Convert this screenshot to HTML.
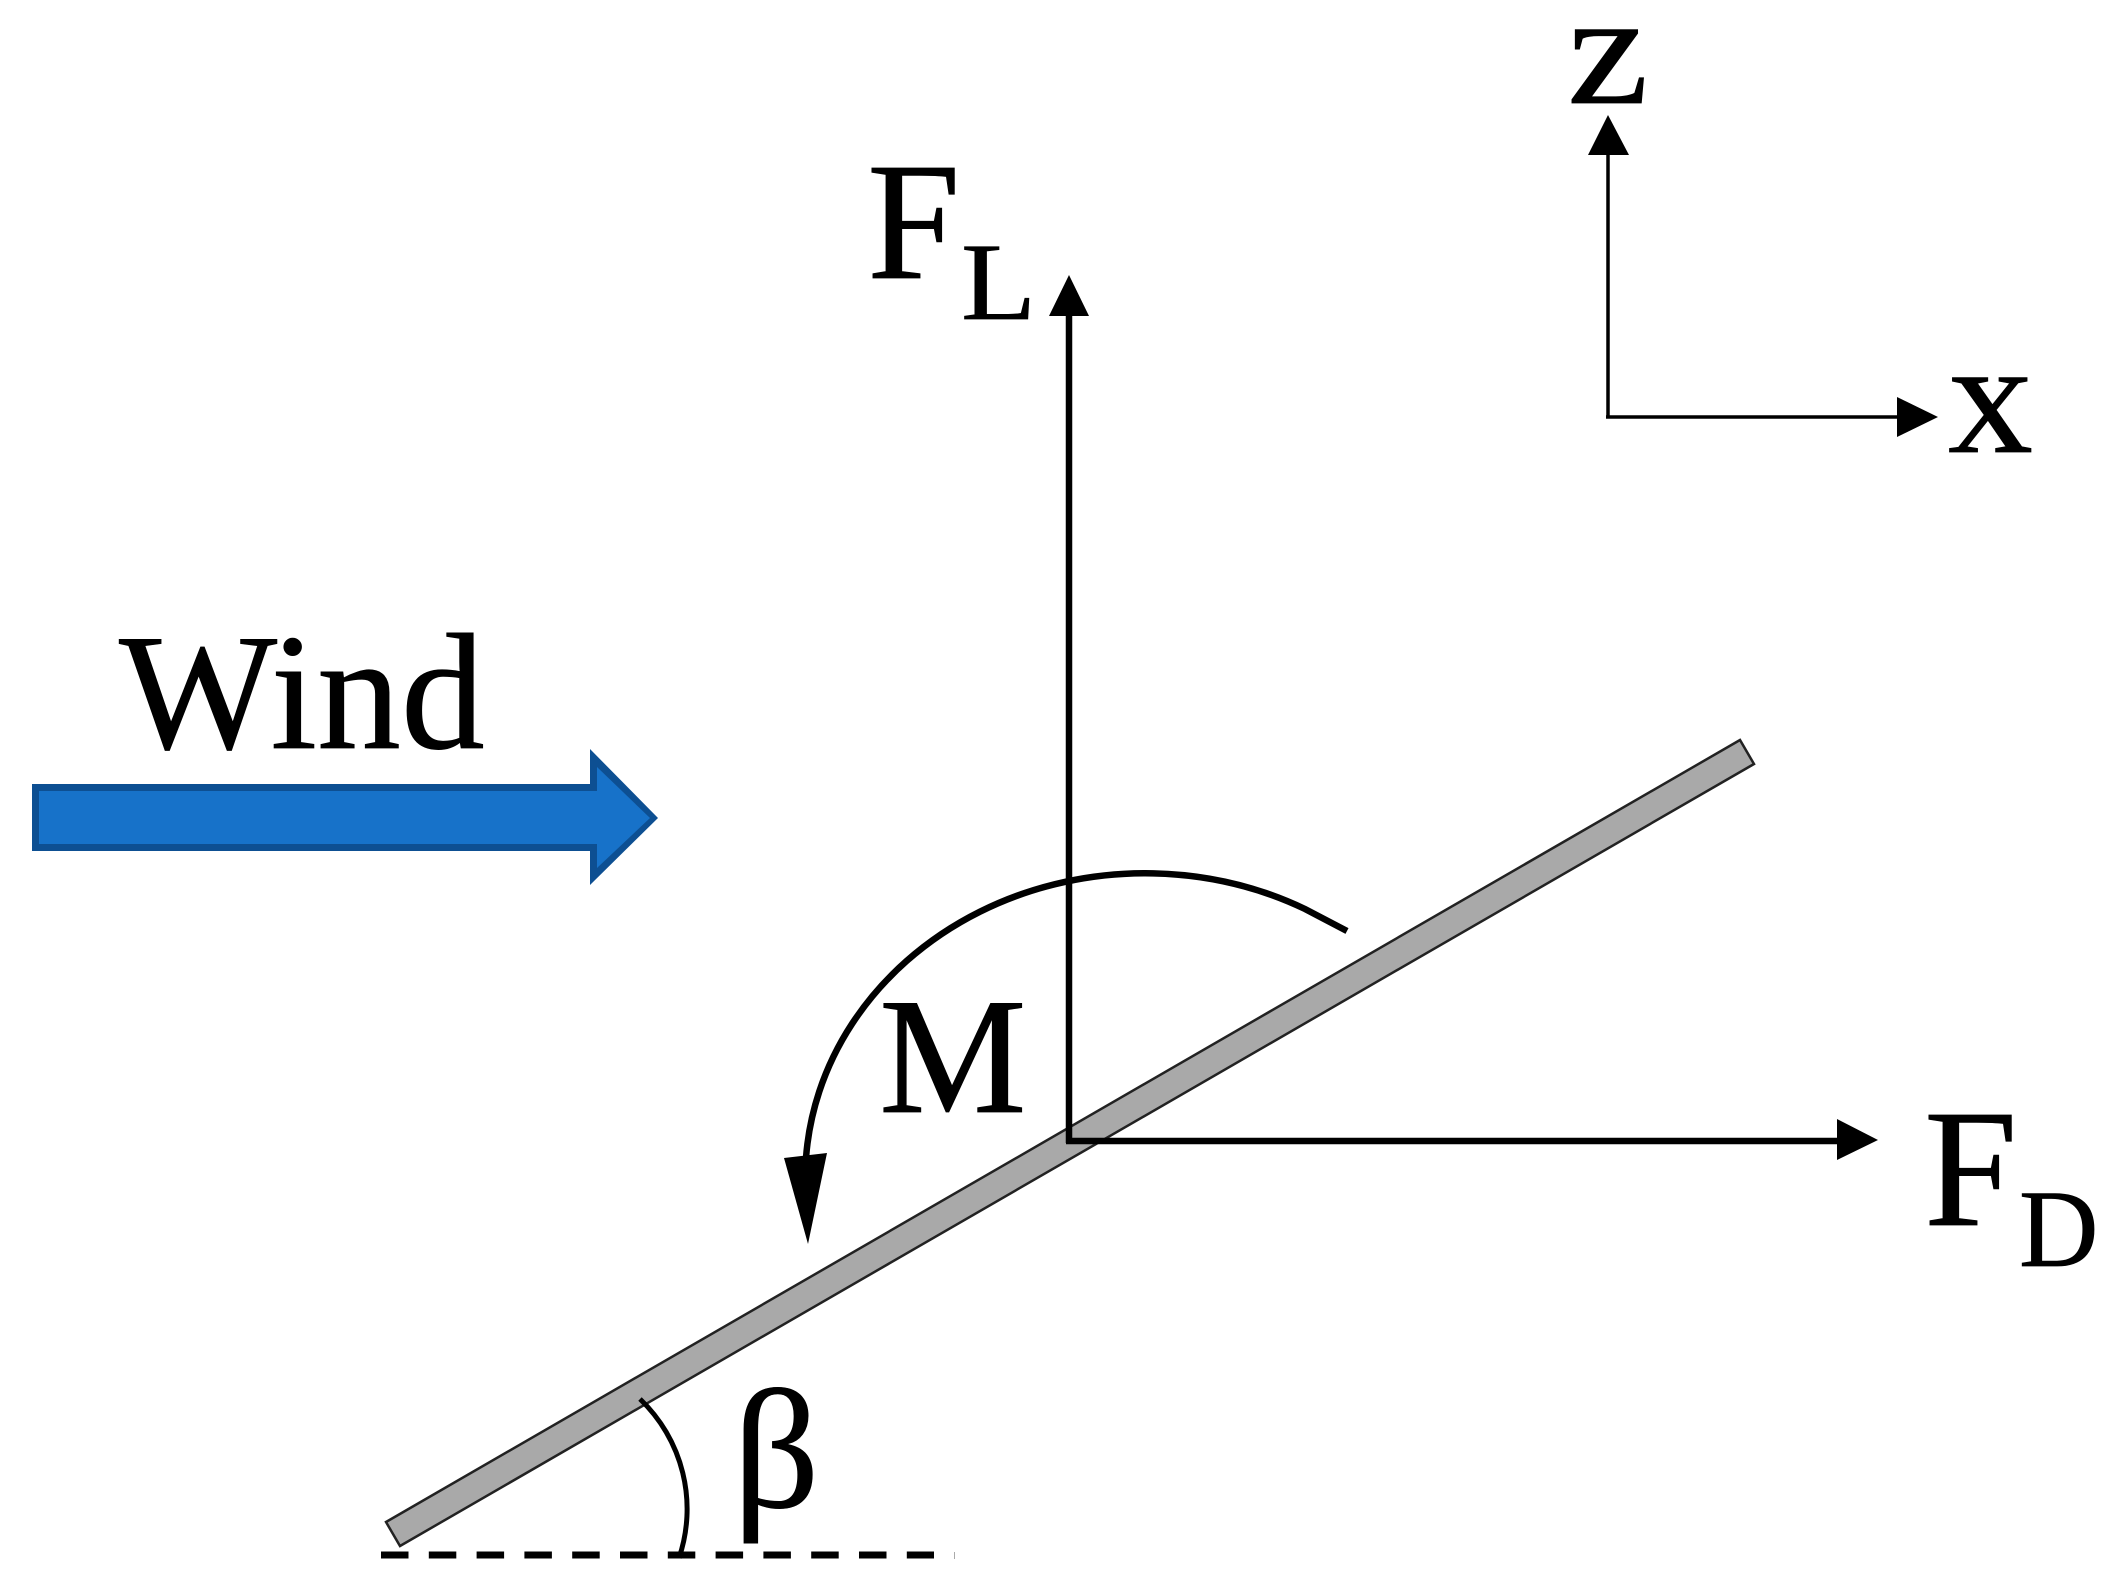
<!DOCTYPE html>
<html><head><meta charset="utf-8"><style>
html,body{margin:0;padding:0;background:#fff;width:2117px;height:1580px;overflow:hidden}
svg{display:block}
text{font-family:"Liberation Serif",serif;fill:#000;stroke:#000;stroke-width:.7px}
</style></head><body>
<svg width="2117" height="1580" viewBox="0 0 2117 1580" xmlns="http://www.w3.org/2000/svg">
<rect width="2117" height="1580" fill="#fff"/>
<!-- Wind arrow -->
<polygon points="32,784 590,784 590,749 658,818 590,885 590,851 32,851" fill="#0d4f92"/>
<polygon points="39,791 597,791 597,767 650,818 597,868 597,844 39,844" fill="#1772c9"/>
<text transform="translate(119,748) scale(1.01,1)" font-size="166">Wind</text>
<!-- plate -->
<polygon points="386,1522 1740,740 1754,764 400,1546" fill="#a9a9a9" stroke="#222" stroke-width="2.5"/>
<!-- FL / FD -->
<line x1="1069" y1="1143" x2="1069" y2="310" stroke="#000" stroke-width="6.5"/>
<polygon points="1069,275 1049,316 1089,316" fill="#000"/>
<line x1="1066" y1="1141" x2="1840" y2="1141" stroke="#000" stroke-width="6.5"/>
<polygon points="1878,1140 1837,1119 1837,1160" fill="#000"/>
<text x="867" y="278" font-size="168">F</text>
<text transform="translate(961,319) scale(1.12,1)" font-size="110">L</text>
<text x="1924" y="1225" font-size="168">F</text>
<text x="2019" y="1266" font-size="110">D</text>
<!-- moment -->
<path d="M1347,931 L1305,909 A340,305 0 0 0 806,1158" fill="none" stroke="#000" stroke-width="6.5"/>
<polygon points="784,1158 827,1153 808,1244" fill="#000"/>
<text x="879" y="1112" font-size="166">M</text>
<!-- axes -->
<line x1="1608" y1="418" x2="1608" y2="150" stroke="#000" stroke-width="3.5"/>
<polygon points="1608,115 1588,155 1629,155" fill="#000"/>
<line x1="1606" y1="417" x2="1900" y2="417" stroke="#000" stroke-width="3.5"/>
<polygon points="1938,417 1897,397 1897,437" fill="#000"/>
<text transform="translate(1567,103) scale(1.15,1)" font-size="160">z</text>
<text transform="translate(1948,452) scale(1.05,1)" font-size="162">x</text>
<!-- beta -->
<path d="M640,1399 A152,152 0 0 1 679,1558" fill="none" stroke="#000" stroke-width="5"/>
<text x="733" y="1507" font-size="170">β</text>
<line x1="381" y1="1555" x2="934" y2="1555" stroke="#000" stroke-width="7" stroke-dasharray="27.5 20.3"/>
<rect x="954" y="1552" width="1" height="7" fill="#aaa"/>
</svg>
</body></html>
